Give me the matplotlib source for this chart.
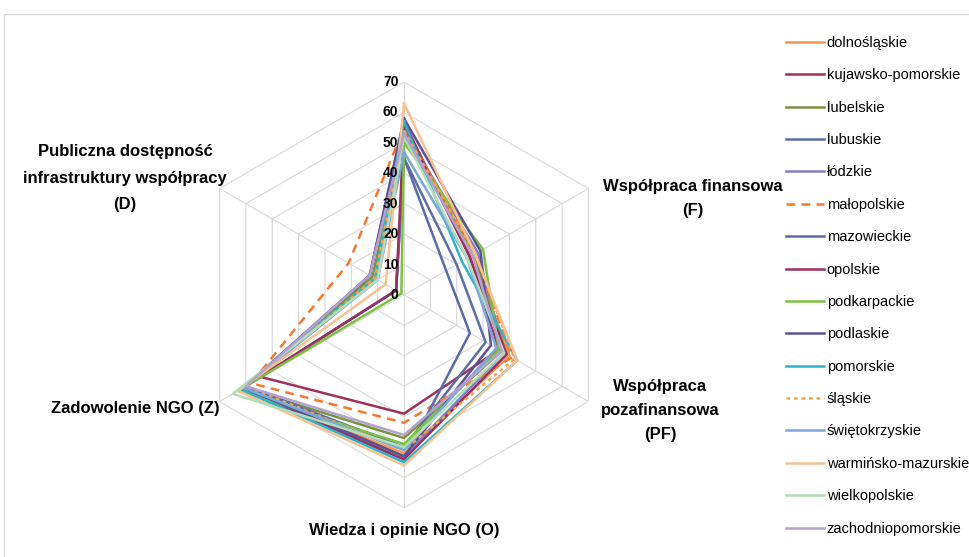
import numpy as np
import matplotlib
matplotlib.use("Agg")
import matplotlib.pyplot as plt
from matplotlib.patches import Rectangle

plt.rcParams['font.family'] = ['Liberation Sans', 'DejaVu Sans']

regiony = ["dolnośląskie", "kujawsko-pomorskie", "lubelskie", "lubuskie", "łódzkie",
           "małopolskie", "mazowieckie", "opolskie", "podkarpackie", "podlaskie",
           "pomorskie", "śląskie", "świętokrzyskie", "warmińsko-mazurskie",
           "wielkopolskie", "zachodniopomorskie"]

# osie w kolejnosci zegarowej od gory
osie = ["", "Współpraca finansowa\n(F)", "Współpraca\npozafinansowa\n(PF)",
        "Wiedza i opinie NGO (O)", "Zadowolenie NGO (Z)",
        "Publiczna dostępność\ninfrastruktury współpracy\n(D)"]

os_gora = [56, 57, 52, 45, 54, 55, 45, 56, 50, 58, 57, 54, 47, 63, 52, 53]
os_F = [26, 25, 27, 20, 28, 27, 16, 25, 30, 29, 22, 27, 24, 27, 24, 26]
os_PF = [40, 36, 37, 31, 38, 41, 25, 39, 36, 33, 43, 42, 35, 43, 38, 37]
os_O = [52, 39, 47, 50, 53, 42, 54, 54, 49, 53, 55, 51, 51, 56, 50, 46]
os_Z = [62, 54, 61, 60, 62, 58, 62, 62, 63, 61, 62, 60, 61, 63, 65, 60]
os_D = [11, 13, 12, 3, 10, 21, 3, 3, 1, 13, 11, 11, 10, 7, 10, 13]

kolory = ["#F79646", "#A0305A", "#77933C", "#5B6EA6", "#7F7FC4", "#F7782D",
          "#5A6AA8", "#9B2F5E", "#7DC142", "#5B5296", "#2DB4C8", "#F9A04E",
          "#7DA7D9", "#FAC090", "#B3DDB8", "#B3A2D0"]
style = ["-"] * 16
style[5] = (0, (3.5, 2.5))
style[11] = (0, (1.5, 1.5))

skala = [0, 10, 20, 30, 40, 50, 60, 70]

fig = plt.figure(figsize=(9.69, 5.57), dpi=100)
fig.patches.append(Rectangle((4 / 969, -0.01), 1.0, 1 - 14 / 557 + 0.01,
                             transform=fig.transFigure, facecolor="white",
                             edgecolor="#D9D9D9", lw=1, zorder=-5))

ax = fig.add_axes([191 / 969, 49 / 557, 426 / 969, 426 / 557], projection="polar")
ax.set_theta_offset(np.pi / 2)
ax.set_theta_direction(-1)
ax.set_facecolor("none")
ax.grid(False)
ax.spines["polar"].set_visible(False)
ax.set_xticks([])
ax.set_yticks([])
ax.set_ylim(0, 70)

katy = np.linspace(0, 2 * np.pi, len(osie), endpoint=False)
katy_z = np.append(katy, katy[0])

# siatka szesciokatna
for r in skala[1:]:
    ax.plot(katy_z, [r] * len(katy_z), color="#D9D9D9", lw=0.8, zorder=1)
for k in katy:
    ax.plot([k, k], [0, 70], color="#D9D9D9", lw=0.8, zorder=1)

for r in skala:
    ax.annotate(str(r), xy=(0, r), xytext=(-4, 0), textcoords="offset points",
                ha="right", va="center", fontsize=10, fontweight="bold", zorder=5)

handles = []
for i, nazwa in enumerate(regiony):
    wart = [os_gora[i], os_F[i], os_PF[i], os_O[i], os_Z[i], os_D[i]]
    wart.append(wart[0])
    h, = ax.plot(katy_z, wart, color=kolory[i], lw=1.8, linestyle=style[i],
                 label=nazwa, zorder=3)
    handles.append(h)

# podpisy osi
pozycje = [None, (693, 199), (660, 410), (404, 530), (135, 409), (125, 178)]
odstepy = [1.75, 1.75, 1.75, 1.75, 1.75, 1.95]
for tekst, poz, ls in zip(osie, pozycje, odstepy):
    if poz is None:
        continue
    fig.text(poz[0] / 969, 1 - poz[1] / 557, tekst, ha="center", va="center",
             multialignment="center", fontsize=12, fontweight="bold", linespacing=ls)

fig.legend(handles=handles, loc="upper left", bbox_to_anchor=(786 / 969, 1 - 36 / 557),
           frameon=False, fontsize=10.5, handlelength=2.6, handletextpad=0.2,
           labelspacing=1.26, borderpad=0, borderaxespad=0)

fig.savefig("out.png", dpi=100, facecolor="white")
